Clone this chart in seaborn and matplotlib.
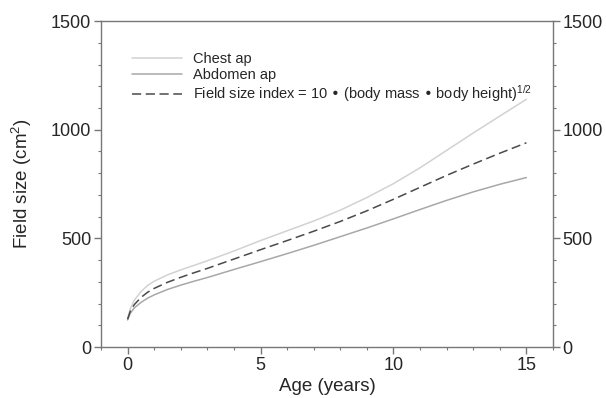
import numpy as np
import pandas as pd
import seaborn as sns
import matplotlib.pyplot as plt
from matplotlib.ticker import MultipleLocator

# values
age = [0, 0.1, 0.25, 0.5, 0.75, 1, 1.5, 2, 2.5, 3, 4, 5, 6, 7, 8, 9, 10, 11, 12, 13, 14, 15]
chest = [130, 175, 215, 255, 283, 303, 332, 355, 376, 397, 442, 490, 535, 580, 630, 688,
         752, 825, 905, 985, 1063, 1140]
abdomen = [125, 155, 180, 205, 225, 240, 265, 285, 303, 320, 357, 393, 430, 468, 508, 548,
           590, 633, 675, 714, 749, 780]
index = [128, 165, 195, 228, 252, 270, 298, 321, 342, 362, 405, 448, 490, 533, 578, 627,
         680, 735, 790, 842, 892, 940]

sns.set_theme(style="ticks")
plt.rcParams['font.family'] = ['Liberation Sans', 'DejaVu Sans']
plt.rcParams['mathtext.default'] = 'regular'

fig = plt.figure(figsize=(6.06, 3.98), dpi=100)
ax = fig.add_axes([0.1667, 0.128, 0.7458, 0.819])

sns.lineplot(x=age, y=chest, ax=ax, color="#d2d2d2", lw=1.1, label="Chest ap")
sns.lineplot(x=age, y=abdomen, ax=ax, color="#a8a8a8", lw=1.1, label="Abdomen ap")
sns.lineplot(x=age, y=index, ax=ax, color="#4a4a4a", lw=1.1, dashes=False,
             label=r"Field size index = 10 • (body mass • body height)$^{1/2}$")
ax.lines[2].set_dashes([6, 3])

ax.set_xlim(-1, 16)
ax.set_ylim(0, 1500)
ax.xaxis.set_major_locator(MultipleLocator(5))
ax.xaxis.set_minor_locator(MultipleLocator(1))
ax.yaxis.set_major_locator(MultipleLocator(500))
ax.yaxis.set_minor_locator(MultipleLocator(100))
ax.tick_params(which='both', right=True, labelright=True, color="#777777",
               labelsize=13, pad=2)
ax.tick_params(which='major', length=5, width=1)
ax.tick_params(which='minor', length=2.5, width=0.8)
for s in ax.spines.values():
    s.set_color("#777777")
    s.set_linewidth(1)

ax.set_xlabel("Age (years)", fontsize=13.5, labelpad=3)
ax.set_ylabel(r"Field size (cm$^2$)", fontsize=13.5, labelpad=12)

ax.legend(loc="upper left", bbox_to_anchor=(0.04, 0.945), frameon=False,
          fontsize=10.5, handlelength=3.4, handletextpad=0.8, labelspacing=0.1)

fig.savefig("out.png", dpi=100)
